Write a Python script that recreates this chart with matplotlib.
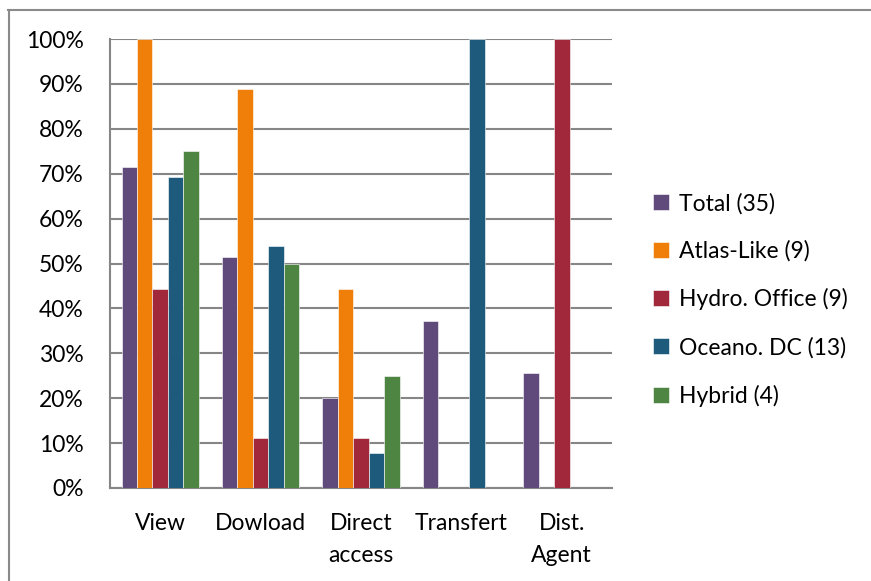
import matplotlib
matplotlib.use("Agg")
import matplotlib.pyplot as plt
from matplotlib.lines import Line2D
import numpy as np

categories = ["View", "Dowload", "Direct\naccess", "Transfert", "Dist.\nAgent"]
series_names = ["Total (35)", "Atlas-Like (9)", "Hydro. Office (9)", "Oceano. DC (13)", "Hybrid (4)"]
total = [71.4, 51.4, 20.0, 37.1, 25.7]
atlas_like = [100.0, 88.9, 44.4, 0.0, 0.0]
hydro_office = [44.4, 11.1, 11.1, 0.0, 100.0]
oceano_dc = [69.2, 53.8, 7.7, 100.0, 0.0]
hybrid = [75.0, 50.0, 25.0, 0.0, 0.0]
colors = ["#604a7b", "#f07f09", "#a0283a", "#1e5a7b", "#4e8542"]
yticks = [0, 10, 20, 30, 40, 50, 60, 70, 80, 90, 100]

plt.rcParams["font.family"] = ["Lato", "DejaVu Sans"]
FS = 16.5

W, H = 871, 581
fig = plt.figure(figsize=(W / 100, H / 100), dpi=100)
ax = fig.add_axes([110 / W, (H - 488) / H, 502 / W, (488 - 39) / H])

data = [total, atlas_like, hydro_office, oceano_dc, hybrid]
x = np.arange(len(categories))
n = len(data)
bw = 0.77 / n
for i, (vals, name, c) in enumerate(zip(data, series_names, colors)):
    ax.bar(x + (i - (n - 1) / 2) * bw, vals, width=bw, color=c, label=name,
           edgecolor="white", linewidth=0.4, zorder=3)

ax.set_xlim(-0.5, len(categories) - 0.5)
ax.set_ylim(0, 100)
ax.set_yticks(yticks)
ax.set_yticklabels([f"{v}%" for v in yticks], fontsize=FS)
ax.set_xticks(x)
ax.set_xticklabels(categories, fontsize=FS, linespacing=1.65, va="top")
ax.tick_params(axis="both", length=0, colors="black")
ax.tick_params(axis="y", pad=19)
ax.tick_params(axis="x", pad=18)
ax.grid(axis="y", color="#868686", linewidth=1.5, zorder=0)
ax.set_axisbelow(True)
for s in ["top", "right"]:
    ax.spines[s].set_visible(False)
ax.spines["left"].set_color("#868686")
ax.spines["left"].set_linewidth(1.5)
ax.spines["bottom"].set_color("#868686")
ax.spines["bottom"].set_linewidth(1.5)

leg = fig.legend(loc="upper left", bbox_to_anchor=(632 / W, 1 - 172 / H),
                 frameon=False, fontsize=FS, handlelength=0.7, handleheight=0.7,
                 handletextpad=0.45, labelspacing=1.15)

# outer chart frame
fig.add_artist(Line2D([8.5 / W, 8.5 / W], [0, 1 - 10 / H], transform=fig.transFigure,
                      color="#8a8a8a", linewidth=1.5))
fig.add_artist(Line2D([8 / W, 1], [1 - 10 / H, 1 - 10 / H], transform=fig.transFigure,
                      color="#8a8a8a", linewidth=1.5))

fig.savefig("out.png", dpi=100, facecolor="white")
